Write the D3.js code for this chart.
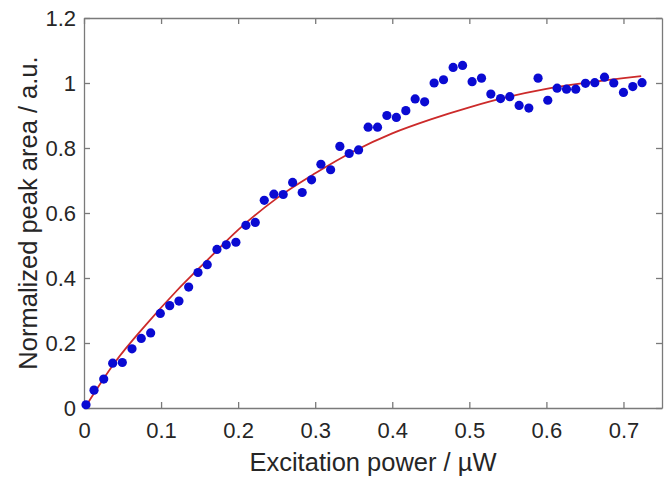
<!DOCTYPE html>
<html>
<head>
<meta charset="utf-8">
<script src="https://cdn.jsdelivr.net/npm/d3@7"></script>
<style>
  body { margin: 0; background: #fff; }
  text { font-family: "Liberation Sans", Arial, sans-serif; }
</style>
</head>
<body>
<script>
// measured points (excitation power in uW, normalized peak area)
var powers = [0.0026, 0.0130, 0.0256, 0.0372, 0.0497, 0.0623, 0.0743, 0.0865, 0.0990, 0.1112,
              0.1232, 0.1358, 0.1479, 0.1599, 0.1725, 0.1846, 0.1971, 0.2101, 0.2222, 0.2339,
              0.2464, 0.2585, 0.2707, 0.2831, 0.2953, 0.3074, 0.3200, 0.3320, 0.3441, 0.3563,
              0.3687, 0.3809, 0.3930, 0.4053, 0.4176, 0.4297, 0.4420, 0.4543, 0.4665, 0.4790,
              0.4912, 0.5036, 0.5158, 0.5279, 0.5405, 0.5525, 0.5646, 0.5772, 0.5892, 0.6018,
              0.6139, 0.6261, 0.6381, 0.6507, 0.6628, 0.6754, 0.6874, 0.7000, 0.7121, 0.7241];
var areas = [0.010, 0.055, 0.089, 0.138, 0.140, 0.182, 0.214, 0.231, 0.291, 0.315,
             0.329, 0.372, 0.417, 0.441, 0.488, 0.502, 0.510, 0.562, 0.571, 0.639,
             0.658, 0.657, 0.694, 0.663, 0.702, 0.750, 0.733, 0.805, 0.783, 0.794,
             0.864, 0.864, 0.900, 0.894, 0.915, 0.951, 0.942, 1.000, 1.010, 1.048,
             1.054, 1.004, 1.015, 0.966, 0.952, 0.958, 0.931, 0.923, 1.015, 0.947,
             0.984, 0.981, 0.981, 0.999, 1.001, 1.018, 1.000, 0.971, 0.989, 1.001];

// fitted curve
var fitPowers = [0.003, 0.04, 0.08, 0.12, 0.16, 0.20, 0.25, 0.30, 0.35, 0.40,
                 0.45, 0.50, 0.55, 0.60, 0.65, 0.70, 0.723];
var fitAreas = [0.008, 0.140, 0.255, 0.360, 0.455, 0.548, 0.645, 0.722, 0.790, 0.845,
                0.888, 0.925, 0.957, 0.982, 1.000, 1.015, 1.021];

var xTicks = [0, 0.1, 0.2, 0.3, 0.4, 0.5, 0.6, 0.7];
var yTicks = [0, 0.2, 0.4, 0.6, 0.8, 1, 1.2];

function init() {
    var w = 672, h = 480;
    var mLeft = 84, mRight = 662, mTop = 18, mBottom = 408;
    var axisColor = "#7a7a7a", textColor = "#262626";

    var svg = d3.select("body").append("svg")
        .attr("width", w)
        .attr("height", h);

    var x = d3.scaleLinear().domain([0, 0.75]).range([mLeft, mRight]);
    var y = d3.scaleLinear().domain([0, 1.2]).range([mBottom, mTop]);

    function fmt(d) { return d3.format("~g")(d); }

    // axes, MATLAB style box with inward ticks
    var gx = svg.append("g")
        .attr("transform", "translate(0," + mBottom + ")")
        .call(d3.axisBottom(x).tickValues(xTicks).tickFormat(fmt).tickSizeInner(-6).tickSizeOuter(0).tickPadding(14));
    var gxt = svg.append("g")
        .attr("transform", "translate(0," + mTop + ")")
        .call(d3.axisTop(x).tickValues(xTicks).tickFormat("").tickSizeInner(-6).tickSizeOuter(0));
    var gy = svg.append("g")
        .attr("transform", "translate(" + mLeft + ",0)")
        .call(d3.axisLeft(y).tickValues(yTicks).tickFormat(fmt).tickSizeInner(-6).tickSizeOuter(0).tickPadding(8));
    var gyr = svg.append("g")
        .attr("transform", "translate(" + mRight + ",0)")
        .call(d3.axisRight(y).tickValues(yTicks).tickFormat("").tickSizeInner(-6).tickSizeOuter(0));

    [gx, gxt, gy, gyr].forEach(function(g) {
        g.selectAll("path, line").attr("stroke", axisColor).attr("stroke-width", 1.3);
        g.selectAll("text").attr("fill", textColor).style("font-size", "22px");
    });

    // fit line
    var line = d3.line()
        .x(function(d) { return x(d[0]); })
        .y(function(d) { return y(d[1]); })
        .curve(d3.curveMonotoneX);

    svg.append("path")
        .datum(d3.zip(fitPowers, fitAreas))
        .attr("d", line)
        .attr("fill", "none")
        .attr("stroke", "#cc2a2a")
        .attr("stroke-width", 1.8);

    svg.selectAll("circle")
        .data(d3.zip(powers, areas))
        .enter()
        .append("circle")
        .attr("cx", function(d) { return x(d[0]); })
        .attr("cy", function(d) { return y(d[1]); })
        .attr("r", 4.6)
        .attr("fill", "#0a0ad2");

    // labels
    svg.append("text")
        .attr("x", (mLeft + mRight) / 2)
        .attr("y", 471)
        .attr("text-anchor", "middle")
        .attr("fill", textColor)
        .style("font-size", "25.5px")
        .text("Excitation power / \u00b5W");

    svg.append("text")
        .attr("transform", "translate(37," + (mTop + mBottom) / 2 + ") rotate(-90)")
        .attr("text-anchor", "middle")
        .attr("fill", textColor)
        .style("font-size", "25.5px")
        .text("Normalized peak area / a.u.");
}
window.onload = init;
</script>
</body>
</html>
